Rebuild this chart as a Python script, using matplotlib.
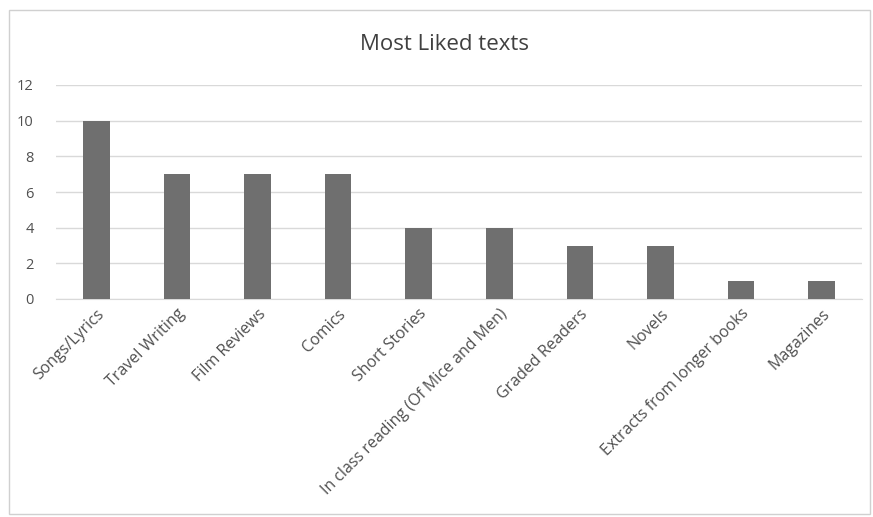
import numpy as np
import matplotlib.pyplot as plt
from matplotlib.patches import Rectangle

categories = ['Songs/Lyrics', 'Travel Writing', 'Film Reviews', 'Comics', 'Short Stories',
              'In class reading (Of Mice and Men)', 'Graded Readers', 'Novels',
              'Extracts from longer books', 'Magazines']
counts = [10, 7, 7, 7, 4, 4, 3, 3, 1, 1]
yticks = [0, 2, 4, 6, 8, 10, 12]

plt.rcParams['font.family'] = ['Open Sans', 'DejaVu Sans']

fig = plt.figure(figsize=(8.73, 5.17), dpi=100)
fig.patch.set_facecolor('white')

# chart frame
fig.patches.append(Rectangle((9 / 873, 3 / 517), 861 / 873, 504 / 517,
                             transform=fig.transFigure, fill=False,
                             edgecolor='#d0d0d0', linewidth=1))

ax = fig.add_axes([56 / 873, 1 - 299 / 517, 806 / 873, 214 / 517])
x = np.arange(len(categories))
ax.bar(x, counts, width=0.33, color='#6f6f6f', zorder=3)

ax.set_xlim(-0.5, len(categories) - 0.5)
ax.set_ylim(0, 12)
ax.set_yticks(yticks)
ax.grid(axis='y', color='#d9d9d9', linewidth=1, zorder=0)
for s in ['top', 'right', 'left']:
    ax.spines[s].set_visible(False)
ax.spines['bottom'].set_color('#d9d9d9')

ax.tick_params(axis='y', length=0, pad=16, labelsize=10.5, labelcolor='#505050')
ax.tick_params(axis='x', length=0, pad=5)
ax.set_xticks(x)
ax.set_xticklabels(categories, rotation=45, ha='right', va='top',
                   rotation_mode='anchor', fontsize=11.5, color='#505050')

fig.text(445 / 873, 1 - 45 / 517, 'Most Liked texts', ha='center', va='center',
         fontsize=16, color='#404040')

fig.savefig('out.png', dpi=100)
